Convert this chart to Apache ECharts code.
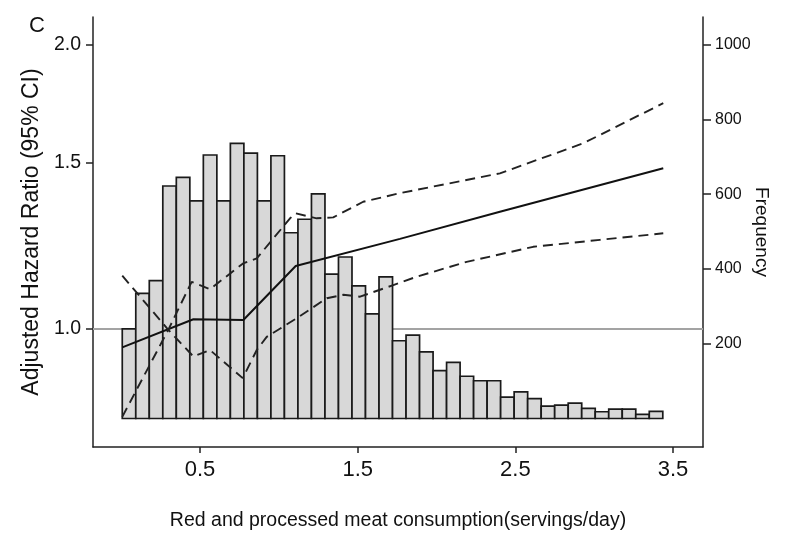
<!DOCTYPE html>
<html>
<head>
<meta charset="utf-8">
<script src="https://cdn.jsdelivr.net/npm/echarts@6/dist/echarts.min.js"></script>
<style>
  html, body { margin: 0; padding: 0; background: #fff; }
  #chart { width: 800px; height: 547px; }
</style>
</head>
<body>
<div id="chart"></div>
<script>
// ---- Data ----
// Histogram of consumption (servings/day): 40 bins
const binStart = 0.007;
const binWidth = 0.0857;
const frequency = [
  240, 335, 369, 622, 645, 582, 705, 582, 736, 710,
  582, 703, 497, 533, 601, 386, 432, 355, 280, 379,
  208, 223, 178, 128, 150, 113, 101, 101, 57, 71,
  53, 33, 36, 41, 27, 18, 25, 25, 11, 19
];
// Adjusted hazard ratio curve [servings/day, HR]
const hrX = [0.007, 0.458, 0.775, 1.107, 1.768, 2.402, 3.438];
const hrY = [0.956, 1.024, 1.022, 1.166, 1.246, 1.331, 1.480];
// Dashed confidence bound A (starts low)
const ciAX = [0.007, 0.299, 0.447, 0.563, 0.775, 0.860, 1.071, 1.107, 1.240, 1.345, 1.535, 1.768, 2.402, 2.930, 3.438];
const ciAY = [0.807, 0.998, 1.122, 1.102, 1.174, 1.188, 1.310, 1.326, 1.310, 1.313, 1.364, 1.393, 1.462, 1.573, 1.735];
// Dashed confidence bound B (starts high)
const ciBX = [0.007, 0.299, 0.458, 0.563, 0.771, 0.860, 0.923, 1.107, 1.304, 1.409, 1.515, 1.726, 1.874, 2.191, 2.613, 3.037, 3.438];
const ciBY = [1.139, 0.998, 0.935, 0.950, 0.887, 0.950, 0.981, 1.025, 1.078, 1.087, 1.082, 1.113, 1.136, 1.178, 1.222, 1.243, 1.263];
// Tick labels
const xTicks = [0.5, 1.5, 2.5, 3.5];
const hrTicks = [1.0, 1.5, 2.0];
const freqTicks = [200, 400, 600, 800, 1000];
const refHR = 1.0;

// ---- Build ----
const FONT = 'Liberation Sans, Arial, Helvetica, sans-serif';
const AX = '#222';
const histData = frequency.map((f, i) => [binStart + i * binWidth, binStart + (i + 1) * binWidth, f]);
const pairs = (xs, ys) => xs.map((x, i) => [x, Math.log(ys[i])]);

const chart = echarts.init(document.getElementById('chart'), null, { renderer: 'canvas' });
chart.setOption({
  animation: false,
  backgroundColor: '#fff',
  title: {
    text: 'C', left: 24, top: 10,
    textStyle: { fontFamily: FONT, fontSize: 22, fontWeight: 'normal', color: '#111' }
  },
  grid: { left: 93, right: 97, top: 17, bottom: 100 },
  xAxis: {
    type: 'value', min: -0.1786, max: 3.690,
    name: 'Red and processed meat consumption(servings/day)',
    nameLocation: 'middle', nameGap: 64,
    nameTextStyle: { fontFamily: FONT, fontSize: 19.5, color: '#111' },
    axisLine: { show: true, onZero: false, lineStyle: { color: AX, width: 1.5 } },
    axisTick: { show: true, inside: false, length: 6, customValues: xTicks, lineStyle: { color: AX, width: 1.5 } },
    axisLabel: { customValues: xTicks, margin: 12, fontFamily: FONT, fontSize: 22, color: '#111',
      formatter: v => v.toFixed(1) },
    splitLine: { show: false }
  },
  yAxis: [
    {
      type: 'value', min: -0.288, max: 0.7613, position: 'left',
      name: 'Adjusted Hazard Ratio (95% CI)',
      nameLocation: 'middle', nameGap: 50, nameRotate: 90,
      nameTextStyle: { fontFamily: FONT, fontSize: 23, color: '#111' },
      axisLine: { show: true, onZero: false, lineStyle: { color: AX, width: 1.5 } },
      axisTick: { show: true, inside: false, length: 7, customValues: hrTicks.map(Math.log), lineStyle: { color: AX, width: 1.5 } },
      axisLabel: { customValues: hrTicks.map(Math.log), margin: 12, fontFamily: FONT, fontSize: 19.5, color: '#111',
        formatter: v => Math.exp(v).toFixed(1) },
      splitLine: { show: false }
    },
    {
      type: 'value', min: -76.3, max: 1074.2, position: 'right',
      name: 'Frequency',
      nameLocation: 'middle', nameGap: 49, nameRotate: -90, nameMoveOverlap: false,
      nameTextStyle: { fontFamily: FONT, fontSize: 19, color: '#111' },
      axisLine: { show: true, onZero: false, lineStyle: { color: AX, width: 1.5 } },
      axisTick: { show: true, inside: false, length: 8, customValues: freqTicks, lineStyle: { color: AX, width: 1.5 } },
      axisLabel: { customValues: freqTicks, margin: 12, fontFamily: FONT, fontSize: 16, color: '#111',
        formatter: v => String(Math.round(v)) },
      splitLine: { show: false }
    }
  ],
  series: [
    {
      type: 'custom', name: 'Frequency', xAxisIndex: 0, yAxisIndex: 1, z: 3,
      data: histData,
      encode: { x: [0, 1], y: 2 },
      renderItem: (params, api) => {
        const p0 = api.coord([api.value(0), 0]);
        const p1 = api.coord([api.value(1), api.value(2)]);
        return {
          type: 'rect',
          shape: { x: p0[0], y: p1[1], width: p1[0] - p0[0], height: p0[1] - p1[1] },
          style: { fill: '#d8d8d8', stroke: '#1a1a1a', lineWidth: 1.7 }
        };
      }
    },
    {
      type: 'line', name: 'HR', yAxisIndex: 0, z: 4, symbol: 'none',
      data: pairs(hrX, hrY),
      lineStyle: { color: '#111', width: 2 },
      markLine: {
        z: 1, silent: true, symbol: 'none', label: { show: false },
        lineStyle: { color: '#a3a3a3', width: 2, type: 'solid' },
        data: [{ yAxis: Math.log(refHR) }]
      }
    },
    {
      type: 'line', name: 'CI A', yAxisIndex: 0, z: 4, symbol: 'none',
      data: pairs(ciAX, ciAY),
      lineStyle: { color: '#222', width: 1.9, type: [10, 6] }
    },
    {
      type: 'line', name: 'CI B', yAxisIndex: 0, z: 4, symbol: 'none',
      data: pairs(ciBX, ciBY),
      lineStyle: { color: '#222', width: 1.9, type: [10, 6] }
    }
  ]
});
</script>
</body>
</html>
